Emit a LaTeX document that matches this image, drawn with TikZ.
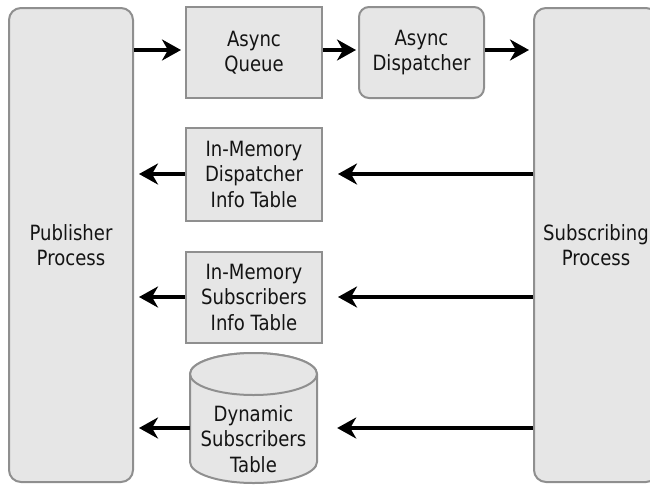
\documentclass[tikz,border=0pt]{standalone}
\usepackage{fontspec}
\setmainfont{DejaVu Sans}[FakeStretch=0.86]
\usetikzlibrary{arrows.meta,calc}
\definecolor{boxfill}{HTML}{E6E6E6}
\definecolor{boxline}{HTML}{8F8F8F}
\definecolor{txt}{HTML}{141414}
\begin{document}
\begin{tikzpicture}[x=1pt,y=-1pt,
  lbl/.style={align=center, text=txt, inner sep=0pt, font=\fontsize{21}{25.5}\selectfont},
  proc/.style={lbl, draw=boxline, fill=boxfill, line width=2pt, rounded corners=12pt,
    minimum width=124pt, minimum height=474pt},
  sq/.style={lbl, draw=boxline, fill=boxfill, line width=2pt, minimum width=136pt, minimum height=91pt},
  rbox/.style={sq, rounded corners=10pt, minimum width=125pt},
  cylbody/.style={draw=boxline, fill=boxfill, line width=2pt},
  flow/.style={line width=3.5pt, -{Stealth[length=19pt,width=21pt,inset=6pt]}}
]
\useasboundingbox (0,0) rectangle (650,485);
\clip (0,0) rectangle (650,485);
\node[proc] (pub) at (71,245) {Publisher\\Process};
\node[proc] (sub) at (596,245) {Subscribing\\Process};
\node[sq] (queue) at (254,52.5) {Async\\Queue};
\node[rbox] (disp) at (421.5,52.5) {Async\\Dispatcher};
\node[sq, minimum height=93pt] (dinfo) at (254,174) {In-Memory\\Dispatcher\\Info Table};
\node[sq] (sinfo) at (254,297) {In-Memory\\Subscribers\\Info Table};
% cylinder
\draw[cylbody] (190,374) -- (190,462) arc[start angle=180, end angle=0, x radius=63.5, y radius=21]
  -- (317,374) arc[start angle=0, end angle=-180, x radius=63.5, y radius=21] -- cycle;
\draw[cylbody] (253.5,374) ellipse[x radius=63.5, y radius=21];
\node[lbl, minimum width=127pt, minimum height=88pt] (cyl) at (253.5,439) {Dynamic\\Subscribers\\Table};
% arrows
\draw[flow, shorten >=4pt] (pub.east |- 0,50) -- (queue.west |- 0,50);
\draw[flow, shorten >=2pt] (queue.east |- 0,50) -- (disp.west |- 0,50);
\draw[flow, shorten >=4pt] (disp.east |- 0,50) -- (sub.west |- 0,50);
\draw[flow, shorten >=5pt] (dinfo.west) -- (pub.east |- dinfo);
\draw[flow, shorten >=15pt] (sub.west |- dinfo) -- (dinfo.east);
\draw[flow, shorten >=5pt] (sinfo.west) -- (pub.east |- sinfo);
\draw[flow, shorten >=15pt] (sub.west |- sinfo) -- (sinfo.east);
\draw[flow, shorten >=5pt] ($(cyl.west)+(0,-11)$) -- (pub.east |- {$(cyl.west)+(0,-11)$});
\draw[flow, shorten >=20pt] (sub.west |- {$(cyl.west)+(0,-11)$}) -- ($(cyl.east)+(0,-11)$);
\end{tikzpicture}
\end{document}
